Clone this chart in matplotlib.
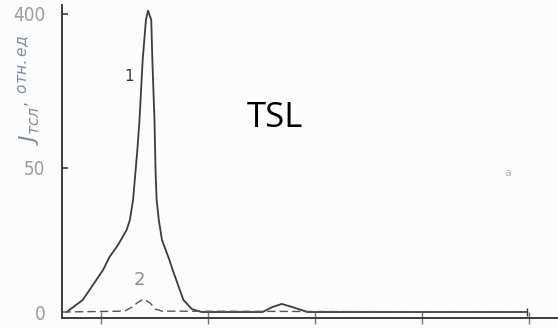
import numpy as np
import matplotlib
matplotlib.use('Agg')
import matplotlib.pyplot as plt

# curve 1 (solid): thermoluminescence glow curve, arbitrary x units
x1 = [-0.32, -0.17, 0.02, 0.08, 0.16, 0.24, 0.27, 0.30, 0.34, 0.36, 0.39, 0.42,
      0.44, 0.47, 0.48, 0.50, 0.51, 0.52, 0.54, 0.57, 0.64, 0.67, 0.77, 0.85,
      0.94, 1.44, 1.51, 1.60, 1.69, 1.79, 1.93, 3.98]
y1 = [0, 4.2, 14.6, 19.1, 23.3, 28.5, 31.9, 38.9, 90.9, 159, 296, 386,
      407, 386, 296, 159, 49, 39, 32, 25, 18, 14.6, 4.2, 1.0,
      0, 0, 0, 1.7, 2.8, 1.7, 0, 0]

# curve 2 (dashed)
x2 = [-0.36, 0.22, 0.29, 0.35, 0.40, 0.46, 0.51, 0.57, 3.98]
y2 = [0, 0.3, 1.7, 3.5, 4.5, 3.1, 1.0, 0.3, 0]

yticks = [0, 50, 400]
ytick_labels = ['0', '50', '400']
xticks = [0, 1, 2, 3, 4]

# broken y axis: 0..50 takes 144 px, 50..400 takes 154 px
def fwd(v):
    v = np.asarray(v, dtype=float)
    return np.where(v <= 50, v * 144 / 50, 144 + (v - 50) * 154 / 350)

def inv(t):
    t = np.asarray(t, dtype=float)
    return np.where(t <= 144, t * 50 / 144, 50 + (t - 144) * 350 / 154)

line_c = '#3c3c3c'
gray = '#9c9c9c'

fig = plt.figure(figsize=(5.58, 3.29), dpi=100)
fig.patch.set_facecolor('#fcfcfc')
ax = fig.add_axes([62 / 558, 11 / 329, 496 / 558, 313 / 329])
ax.set_facecolor('#fcfcfc')
ax.set_yscale('function', functions=(fwd, inv))

ax.plot(x1, y1, color=line_c, lw=1.3, marker='|', markevery=[-1], ms=6)
ax.plot(x2, y2, color='#555555', lw=1.0, ls=(0, (6, 3)))

ax.set_xlim(-0.364, 4.27)
ax.set_ylim(-2.08, 420)

for s in ['top', 'right']:
    ax.spines[s].set_visible(False)
for s in ['left', 'bottom']:
    ax.spines[s].set_color(line_c)
    ax.spines[s].set_linewidth(1.4)

ax.set_yticks(yticks)
ax.set_yticklabels(ytick_labels)
ax.set_xticks(xticks)
ax.set_xticklabels([])
ax.tick_params(axis='y', direction='in', length=4, width=1.2, color=line_c,
               pad=12, labelcolor=gray, labelsize=13.5)
ax.tick_params(axis='x', direction='inout', length=8, width=1.0, color='#777777')
for lab in ax.get_yticklabels():
    lab.set_fontstretch('condensed')
ax.yaxis.get_major_ticks()[0].tick1line.set_visible(False)

ax.text(0.26, 257, '1', color=line_c, fontsize=11, ha='center', va='center')
ax.text(0.355, 11.1, '2', color='#8a8a8a', fontsize=13, ha='center', va='center')
ax.text(3.80, 48.3, 'a', color='#b0b0b0', fontsize=8, ha='center', va='center')

fig.text(247 / 558, 1 - 127 / 329, 'TSL', family='Open Sans', fontsize=25,
         color='black', ha='left', va='baseline')

fig.text(29 / 558, 1 - 90 / 329, r'$J_{тсл}{}^{,\ отн.ед}$', rotation=90,
         color='#7f8d9a', fontsize=16, ha='center', va='center')

fig.savefig('out.png', dpi=100, facecolor=fig.get_facecolor())
